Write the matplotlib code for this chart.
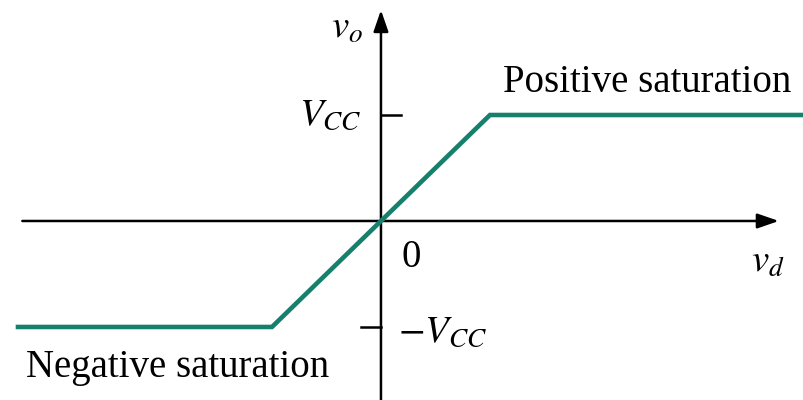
import matplotlib
matplotlib.use("Agg")
import matplotlib.pyplot as plt

# Transfer characteristic (normalized: VCC = 1, knee at vd = ±1)
vd = [-3.33, -1.0, 0.0, 1.0, 3.9]
vo = [-1.0, -1.0, 0.0, 1.0, 1.0]
vcc = 1.0

plt.rcParams['mathtext.fontset'] = 'stix'
plt.rcParams['font.family'] = ['Liberation Serif', 'DejaVu Serif']

fig = plt.figure(figsize=(8.04, 4.0), dpi=100)
ax = fig.add_axes([0, 0, 1, 1])
ax.set_xlim(-3.495, 3.881)
ax.set_ylim(-1.689, 2.085)
ax.axis('off')

green = '#17806d'
astyle = '-|>,head_length=1.3,head_width=0.45'
# axes
ax.annotate('', xy=(3.65, 0), xytext=(-3.29, 0),
            arrowprops=dict(arrowstyle=astyle, color='black', lw=1.8,
                            shrinkA=0, shrinkB=0))
ax.annotate('', xy=(0, 1.99), xytext=(0, -1.70),
            arrowprops=dict(arrowstyle=astyle, color='black', lw=1.8,
                            shrinkA=0, shrinkB=0))
# ticks
ax.plot([0, 0.18], [vcc, vcc], color='black', lw=1.8)
ax.plot([-0.18, 0], [-vcc, -vcc], color='black', lw=1.8)

# curve
ax.plot(vd, vo, color=green, lw=3.3, solid_joinstyle='miter', zorder=3)

fs = 28
ax.text(-0.31, 1.82, r'$v_o$', fontsize=fs, ha='center', va='center')
ax.text(-0.46, 1.0, r'$V_{CC}$', fontsize=fs, ha='center', va='center')
ax.text(0.57, -1.05, r'$-V_{CC}$', fontsize=fs, ha='center', va='center')
ax.text(0.28, -0.34, '0', fontsize=fs, ha='center', va='center')
ax.text(3.55, -0.39, r'$v_d$', fontsize=fs, ha='center', va='center')
ax.text(2.44, 1.31, 'Positive saturation', fontsize=fs, ha='center', va='center')
ax.text(-1.87, -1.38, 'Negative saturation', fontsize=fs, ha='center', va='center')

fig.savefig('out.png', dpi=100)
